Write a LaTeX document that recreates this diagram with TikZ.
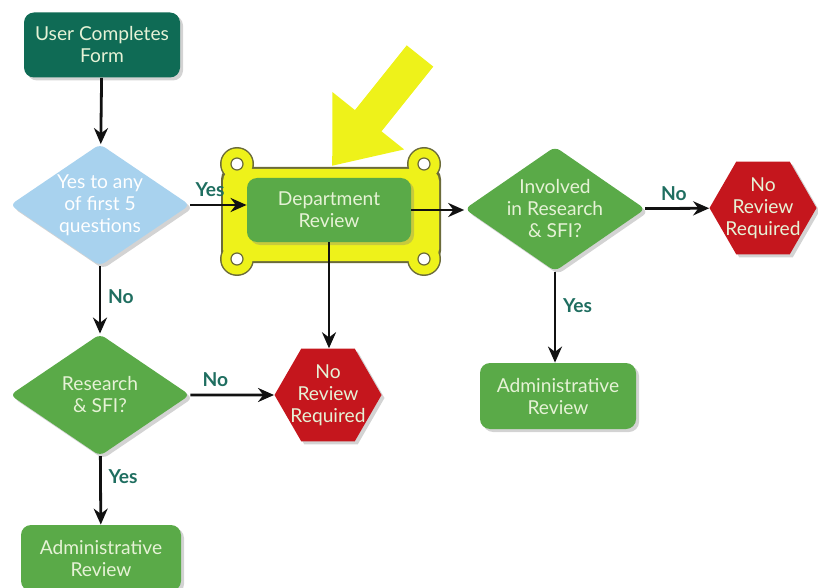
\documentclass[tikz,border=0pt]{standalone}
\usepackage{fontspec}
\setmainfont{Lato}
\usetikzlibrary{arrows.meta,positioning,shapes.geometric,shadows}
\definecolor{ink}{HTML}{111111}
\definecolor{ink2}{HTML}{6B6B3A}
\definecolor{cteal}{HTML}{0F6B55}
\definecolor{cgreen}{HTML}{5AAA48}
\definecolor{cblue}{HTML}{A8D2EE}
\definecolor{cred}{HTML}{C5161D}
\definecolor{cyel}{HTML}{EEF21A}
\definecolor{ctext}{HTML}{E6F2D6}
\definecolor{clab}{HTML}{1F6E60}
\tikzset{
  >={Stealth[length=8pt,width=7pt]},
  every picture/.style={font=\fontsize{9.6}{11}\selectfont},
  shd/.style={drop shadow={opacity=0.35,shadow xshift=1.5pt,shadow yshift=-1.5pt}},
  bx/.style={rectangle,rounded corners=5pt,align=center,text=ctext,inner sep=2pt,shd},
  bxd/.style={bx,fill=cteal,minimum width=78pt,minimum height=32.5pt},
  bxg/.style={bx,fill=cgreen,minimum width=80pt,minimum height=33pt},
  dec/.style={diamond,aspect=1.45,inner sep=0pt,align=center,rounded corners=3pt,
    minimum width=90pt,minimum height=61pt,text=ctext,shd},
  decb/.style={dec,fill=cblue,text=white},
  decg/.style={dec,fill=cgreen},
  hexr/.style={regular polygon,regular polygon sides=6,fill=cred,text=ctext,
    minimum size=53.5pt,inner sep=-6pt,align=center,shd},
  frm/.style={rectangle,rounded corners=6pt,minimum width=108pt,minimum height=46pt},
  ear/.style={circle,minimum size=17pt,inner sep=0pt},
  hole/.style={circle,fill=white,draw=ink2,line width=0.6pt,minimum size=6pt,inner sep=0pt},
  arr/.style={->,draw=ink,line width=1.4pt},
  lab/.style={font=\fontsize{9.6}{11}\selectfont\bfseries,text=clab},
  bigarr/.style={draw=cyel,line width=17pt,-{Triangle[length=29pt,width=44pt]}},
}
\begin{document}
\begin{tikzpicture}[x=0.5pt,y=-0.5pt]
  \useasboundingbox (0,0) rectangle (818,588);
  % highlight frame round the department box
  \foreach \i/\p in {1/{237,164},2/{424,164},3/{237,259},4/{424,259}}
    \node[ear,fill=ink2] (eo\i) at (\p) {};
  \node[frm,fill=ink2,minimum width=110pt,minimum height=48pt] (fro) at (331,215) {};
  \foreach \i/\p in {1/{237,164},2/{424,164},3/{237,259},4/{424,259}}
    \node[ear,fill=cyel,minimum size=15.5pt] (ei\i) at (\p) {};
  \node[frm,fill=cyel] (frame) at (331,215) {};
  \foreach \i/\p in {1/{237,164},2/{424,164},3/{237,259},4/{424,259}}
    \node[hole] (h\i) at (\p) {};
  % pointer
  \coordinate (atail) at (420,56);
  \coordinate (atip) at (332,166);
  \draw[bigarr] (atail) -- (atip);
  % nodes
  \node[bxd] (form) at (102,45) {User Completes\\Form};
  \node[decb] (q5) at (100,205) {Yes to any\\of first 5\\questions};
  \node[bxg,minimum width=82pt,minimum height=32pt] (dept) at (329,210) {Department\\Review};
  \node[decg] (inv) at (555,209) {Involved\\in Research\\\& SFI?};
  \node[hexr] (nrr1) at (763,208) {No\\Review\\Required};
  \node[decg] (rsfi) at (100,395) {Research\\\& SFI?};
  \node[hexr] (nrr2) at (328,395) {No\\Review\\Required};
  \node[bxg] (adm1) at (101,558) {Administrative\\Review};
  \node[bxg,minimum width=78pt] (adm2) at (558,396) {Administrative\\Review};
  % arrows
  \draw[arr] (form) -- (q5);
  \draw[arr] (q5.east) -- node[lab,above,pos=0.35]{Yes} (q5.east -| dept.west);
  \draw[arr] (dept.east) -- (dept.east -| inv.west);
  \draw[arr] (inv) -- node[lab,above,pos=0.45]{No} (nrr1);
  \draw[arr] (dept.south) -- (dept.south |- nrr2.north);
  \draw[arr] (q5) -- node[lab,right,pos=0.45]{No} (rsfi);
  \draw[arr] (rsfi) -- node[lab,above,pos=0.3]{No} (nrr2);
  \draw[arr] (rsfi) -- node[lab,right,pos=0.3]{Yes} (adm1);
  \draw[arr] (inv.south) -- node[lab,right,pos=0.37]{Yes} (inv.south |- adm2.north);
\end{tikzpicture}
\end{document}
